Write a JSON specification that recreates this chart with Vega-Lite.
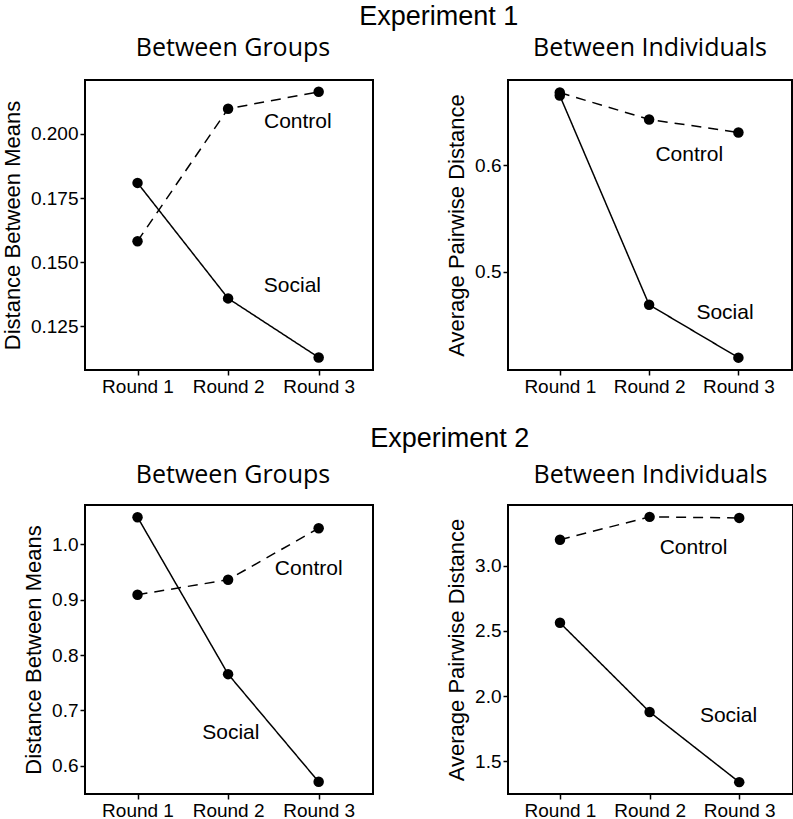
{
  "$schema": "https://vega.github.io/schema/vega-lite/v6.json",
  "padding": {"left": 0, "top": 3, "right": 0, "bottom": 0},
  "background": "white",
  "config": {
    "view": {"stroke": "black", "strokeWidth": 2},
    "axis": {"grid": false, "domain": false, "tickColor": "black", "tickSize": 5, "tickWidth": 1.5, "labelColor": "black", "labelFont": "Liberation Sans", "labelFontSize": 19, "labelPadding": 2, "titleFont": "Liberation Sans", "titleFontSize": 22, "titleFontWeight": "normal", "titleColor": "black", "titlePadding": 6},
    "title": {"font": "Open Sans", "fontSize": 25, "fontWeight": "normal", "color": "black"}
  },
  "datasets": {
    "series": [
      {"panel": "A", "group": "Control", "round": 1, "value": 0.1582},
      {"panel": "A", "group": "Control", "round": 2, "value": 0.2098},
      {"panel": "A", "group": "Control", "round": 3, "value": 0.2164},
      {"panel": "A", "group": "Social", "round": 1, "value": 0.1809},
      {"panel": "A", "group": "Social", "round": 2, "value": 0.1359},
      {"panel": "A", "group": "Social", "round": 3, "value": 0.1129},
      {"panel": "B", "group": "Control", "round": 1, "value": 0.6682},
      {"panel": "B", "group": "Control", "round": 2, "value": 0.643},
      {"panel": "B", "group": "Control", "round": 3, "value": 0.6308},
      {"panel": "B", "group": "Social", "round": 1, "value": 0.6654},
      {"panel": "B", "group": "Social", "round": 2, "value": 0.4692},
      {"panel": "B", "group": "Social", "round": 3, "value": 0.4196},
      {"panel": "C", "group": "Control", "round": 1, "value": 0.909},
      {"panel": "C", "group": "Control", "round": 2, "value": 0.936},
      {"panel": "C", "group": "Control", "round": 3, "value": 1.029},
      {"panel": "C", "group": "Social", "round": 1, "value": 1.049},
      {"panel": "C", "group": "Social", "round": 2, "value": 0.7655},
      {"panel": "C", "group": "Social", "round": 3, "value": 0.571},
      {"panel": "D", "group": "Control", "round": 1, "value": 3.198},
      {"panel": "D", "group": "Control", "round": 2, "value": 3.373},
      {"panel": "D", "group": "Control", "round": 3, "value": 3.365},
      {"panel": "D", "group": "Social", "round": 1, "value": 2.561},
      {"panel": "D", "group": "Social", "round": 2, "value": 1.878},
      {"panel": "D", "group": "Social", "round": 3, "value": 1.34}
    ],
    "labels": [
      {"panel": "A", "label": "Control", "round": 2.77, "value": 0.2047},
      {"panel": "A", "label": "Social", "round": 2.71, "value": 0.1406},
      {"panel": "B", "label": "Control", "round": 2.45, "value": 0.61},
      {"panel": "B", "label": "Social", "round": 2.85, "value": 0.4617},
      {"panel": "C", "label": "Control", "round": 2.89, "value": 0.956},
      {"panel": "C", "label": "Social", "round": 2.03, "value": 0.66},
      {"panel": "D", "label": "Control", "round": 2.49, "value": 3.137},
      {"panel": "D", "label": "Social", "round": 2.88, "value": 1.848}
    ]
  },
  "vconcat": [
    {
      "title": {"text": "Experiment 1", "font": "Liberation Sans", "fontSize": 27, "anchor": "middle", "dx": 42, "offset": 4},
      "spacing": 70,
      "hconcat": [
        {
          "width": 288, "height": 290,
          "title": {"text": "Between Groups", "offset": 19, "dx": 4},
          "layer": [
            {
              "data": {"name": "series"},
              "transform": [{"filter": "datum.panel == 'A'"}],
              "mark": {"type": "line", "color": "black", "strokeWidth": 1.5},
              "encoding": {
                "x": {"field": "round", "type": "quantitative", "scale": {"domain": [0.42, 3.6], "nice": false, "zero": false}, "axis": {"values": [1, 2, 3], "labelExpr": "'Round ' + datum.value", "title": null}},
                "y": {"field": "value", "type": "quantitative", "scale": {"domain": [0.108, 0.221], "nice": false, "zero": false}, "axis": {"values": [0.125, 0.15, 0.175, 0.2], "format": ".3f", "title": "Distance Between Means"}},
                "strokeDash": {"field": "group", "type": "nominal", "scale": {"domain": ["Control", "Social"], "range": [[10, 7], [1, 0]]}, "legend": null}
              }
            },
            {
              "data": {"name": "series"},
              "transform": [{"filter": "datum.panel == 'A'"}],
              "mark": {"type": "point", "filled": true, "color": "black", "opacity": 1, "size": 110},
              "encoding": {"x": {"field": "round", "type": "quantitative"}, "y": {"field": "value", "type": "quantitative"}}
            },
            {
              "data": {"name": "labels"},
              "transform": [{"filter": "datum.panel == 'A'"}],
              "mark": {"type": "text", "font": "Liberation Sans", "fontSize": 21, "color": "black", "align": "center", "baseline": "middle"},
              "encoding": {"x": {"field": "round", "type": "quantitative"}, "y": {"field": "value", "type": "quantitative"}, "text": {"field": "label"}}
            }
          ]
        },
        {
          "width": 284, "height": 290,
          "title": {"text": "Between Individuals", "offset": 19},
          "layer": [
            {
              "data": {"name": "series"},
              "transform": [{"filter": "datum.panel == 'B'"}],
              "mark": {"type": "line", "color": "black", "strokeWidth": 1.5},
              "encoding": {
                "x": {"field": "round", "type": "quantitative", "scale": {"domain": [0.42, 3.6], "nice": false, "zero": false}, "axis": {"values": [1, 2, 3], "labelExpr": "'Round ' + datum.value", "title": null}},
                "y": {"field": "value", "type": "quantitative", "scale": {"domain": [0.408, 0.68], "nice": false, "zero": false}, "axis": {"values": [0.5, 0.6], "format": ".1f", "title": "Average Pairwise Distance"}},
                "strokeDash": {"field": "group", "type": "nominal", "scale": {"domain": ["Control", "Social"], "range": [[10, 7], [1, 0]]}, "legend": null}
              }
            },
            {
              "data": {"name": "series"},
              "transform": [{"filter": "datum.panel == 'B'"}],
              "mark": {"type": "point", "filled": true, "color": "black", "opacity": 1, "size": 110},
              "encoding": {"x": {"field": "round", "type": "quantitative"}, "y": {"field": "value", "type": "quantitative"}}
            },
            {
              "data": {"name": "labels"},
              "transform": [{"filter": "datum.panel == 'B'"}],
              "mark": {"type": "text", "font": "Liberation Sans", "fontSize": 21, "color": "black", "align": "center", "baseline": "middle"},
              "encoding": {"x": {"field": "round", "type": "quantitative"}, "y": {"field": "value", "type": "quantitative"}, "text": {"field": "label"}}
            }
          ]
        }
      ]
    },
    {
      "title": {"text": "Experiment 2", "font": "Liberation Sans", "fontSize": 27, "anchor": "middle", "dx": 42, "offset": 9},
      "spacing": 70,
      "hconcat": [
        {
          "width": 288, "height": 289,
          "title": {"text": "Between Groups", "offset": 17, "dx": 4},
          "layer": [
            {
              "data": {"name": "series"},
              "transform": [{"filter": "datum.panel == 'C'"}],
              "mark": {"type": "line", "color": "black", "strokeWidth": 1.5},
              "encoding": {
                "x": {"field": "round", "type": "quantitative", "scale": {"domain": [0.42, 3.6], "nice": false, "zero": false}, "axis": {"values": [1, 2, 3], "labelExpr": "'Round ' + datum.value", "title": null}},
                "y": {"field": "value", "type": "quantitative", "scale": {"domain": [0.549, 1.071], "nice": false, "zero": false}, "axis": {"values": [0.6, 0.7, 0.8, 0.9, 1.0], "format": ".1f", "title": "Distance Between Means"}},
                "strokeDash": {"field": "group", "type": "nominal", "scale": {"domain": ["Control", "Social"], "range": [[10, 7], [1, 0]]}, "legend": null}
              }
            },
            {
              "data": {"name": "series"},
              "transform": [{"filter": "datum.panel == 'C'"}],
              "mark": {"type": "point", "filled": true, "color": "black", "opacity": 1, "size": 110},
              "encoding": {"x": {"field": "round", "type": "quantitative"}, "y": {"field": "value", "type": "quantitative"}}
            },
            {
              "data": {"name": "labels"},
              "transform": [{"filter": "datum.panel == 'C'"}],
              "mark": {"type": "text", "font": "Liberation Sans", "fontSize": 21, "color": "black", "align": "center", "baseline": "middle"},
              "encoding": {"x": {"field": "round", "type": "quantitative"}, "y": {"field": "value", "type": "quantitative"}, "text": {"field": "label"}}
            }
          ]
        },
        {
          "width": 285, "height": 289,
          "title": {"text": "Between Individuals", "offset": 17},
          "layer": [
            {
              "data": {"name": "series"},
              "transform": [{"filter": "datum.panel == 'D'"}],
              "mark": {"type": "line", "color": "black", "strokeWidth": 1.5},
              "encoding": {
                "x": {"field": "round", "type": "quantitative", "scale": {"domain": [0.42, 3.6], "nice": false, "zero": false}, "axis": {"values": [1, 2, 3], "labelExpr": "'Round ' + datum.value", "title": null}},
                "y": {"field": "value", "type": "quantitative", "scale": {"domain": [1.249, 3.464], "nice": false, "zero": false}, "axis": {"values": [1.5, 2.0, 2.5, 3.0], "format": ".1f", "title": "Average Pairwise Distance"}},
                "strokeDash": {"field": "group", "type": "nominal", "scale": {"domain": ["Control", "Social"], "range": [[10, 7], [1, 0]]}, "legend": null}
              }
            },
            {
              "data": {"name": "series"},
              "transform": [{"filter": "datum.panel == 'D'"}],
              "mark": {"type": "point", "filled": true, "color": "black", "opacity": 1, "size": 110},
              "encoding": {"x": {"field": "round", "type": "quantitative"}, "y": {"field": "value", "type": "quantitative"}}
            },
            {
              "data": {"name": "labels"},
              "transform": [{"filter": "datum.panel == 'D'"}],
              "mark": {"type": "text", "font": "Liberation Sans", "fontSize": 21, "color": "black", "align": "center", "baseline": "middle"},
              "encoding": {"x": {"field": "round", "type": "quantitative"}, "y": {"field": "value", "type": "quantitative"}, "text": {"field": "label"}}
            }
          ]
        }
      ]
    }
  ],
  "spacing": 28
}
